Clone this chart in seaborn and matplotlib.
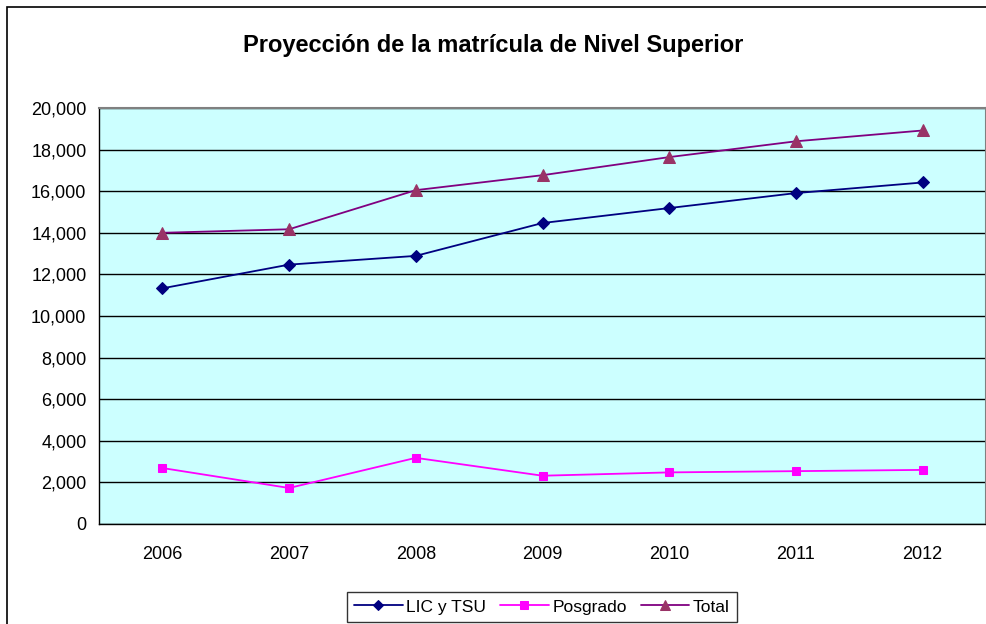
import pandas as pd
import matplotlib.pyplot as plt
import seaborn as sns
from matplotlib.patches import Rectangle

# Data
years = ["2006", "2007", "2008", "2009", "2010", "2011", "2012"]
lic_tsu = [11330, 12470, 12890, 14470, 15190, 15910, 16420]
posgrado = [2690, 1730, 3180, 2320, 2480, 2540, 2600]
total = [14000, 14170, 16050, 16770, 17640, 18400, 18920]

df = pd.DataFrame({
    "pos": list(range(len(years))) * 3,
    "valor": lic_tsu + posgrado + total,
    "serie": ["LIC y TSU"] * 7 + ["Posgrado"] * 7 + ["Total"] * 7,
})

sns.set_style("white")
plt.rcParams["font.family"] = ["Liberation Sans", "DejaVu Sans"]
plt.rcParams["text.color"] = "black"
plt.rcParams["xtick.color"] = "black"
plt.rcParams["ytick.color"] = "black"

fig = plt.figure(figsize=(9.87, 6.24), dpi=100)
# chart area border (right and bottom edges fall outside the image)
fig.patches.append(Rectangle((7 / 987, -0.05), 1.05, 1 - 7 / 624 + 0.05,
                             transform=fig.transFigure, fill=False,
                             edgecolor="black", linewidth=1.2))
ax = fig.add_axes([0.1003, 0.1603, 0.8987, 0.6666])
ax.set_facecolor("#CCFFFF")

styles = {
    "LIC y TSU": dict(color="#000080", marker="D", mfc="#000080", ms=6),
    "Posgrado": dict(color="#FF00FF", marker="s", mfc="#FF00FF", ms=6),
    "Total": dict(color="#800080", marker="^", mfc="#993366", ms=8),
}
for name, st in styles.items():
    sub = df[df["serie"] == name]
    sns.lineplot(data=sub, x="pos", y="valor", ax=ax, color=st["color"],
                 marker=st["marker"], markersize=st["ms"],
                 markerfacecolor=st["mfc"], markeredgecolor=st["mfc"],
                 linewidth=1.3, label=name)

ax.set_xlim(-0.5, len(years) - 0.5)
ax.set_ylim(0, 20000)
ax.set_yticks(range(0, 20001, 2000))
ax.set_yticklabels([f"{v:,}" for v in range(0, 20001, 2000)], fontsize=13)
ax.yaxis.grid(True, color="black", linewidth=1)
ax.set_axisbelow(True)

ax.set_xticks(range(len(years)))
ax.set_xticklabels(years, fontsize=13)
ax.set_xticks([i - 0.5 for i in range(len(years) + 1)], minor=True)
ax.tick_params(axis="x", which="major", length=0, pad=16)
ax.tick_params(axis="x", which="minor", length=6, width=1, direction="out", color="black")
ax.tick_params(axis="y", length=5, width=1, direction="out", color="black", pad=4)
ax.set_xlabel("")
ax.set_ylabel("")

for s in ["top", "right"]:
    ax.spines[s].set_color("#808080")
    ax.spines[s].set_linewidth(1.5)
for s in ["left", "bottom"]:
    ax.spines[s].set_color("black")
    ax.spines[s].set_linewidth(1)

fig.suptitle("Proyección de la matrícula de Nivel Superior", fontsize=17,
             fontweight="bold", y=0.945, color="black")

ax.get_legend().remove()
handles, labels = ax.get_legend_handles_labels()
leg = fig.legend(handles, labels, loc="lower center",
                 bbox_to_anchor=(0.549, 0.004), ncol=3, borderaxespad=0,
                 fontsize=12.5, frameon=True, fancybox=False, edgecolor="black",
                 handlelength=2.8, handletextpad=0.2, columnspacing=0.8,
                 borderpad=0.4, markerscale=0.85)
leg.get_frame().set_linewidth(1)

fig.savefig("out.png", dpi=100)
